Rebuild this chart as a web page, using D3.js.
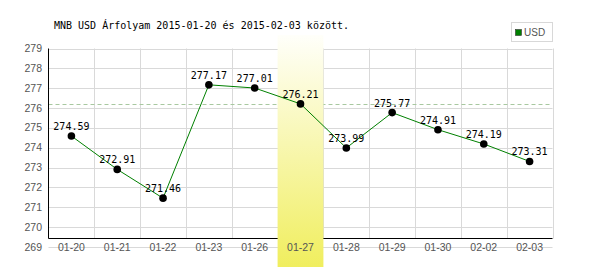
<!DOCTYPE html>
<html><head><meta charset="utf-8">
<script src="https://cdn.jsdelivr.net/npm/d3@7"></script>
<style>body{margin:0;background:#fff}svg{display:block}</style>
</head><body>
<svg id="c" width="600" height="270"></svg>
<script>
const categories = ["01-20","01-21","01-22","01-23","01-26","01-27","01-28","01-29","01-30","02-02","02-03"];
const values = [274.59,272.91,271.46,277.17,277.01,276.21,273.99,275.77,274.91,274.19,273.31];
const yTicks = [269,270,271,272,273,274,275,276,277,278,279];
const highlight = "01-27";
const refValue = 276.21;
const title = "MNB USD Árfolyam 2015-01-20 és 2015-02-03 között.";
const seriesName = "USD";

const svg = d3.select("#c");
const L = 48.5, R = 552.5, T = 48.5, B = 247;
const x = d3.scaleBand().domain(categories).range([L, R]);
const y = d3.scaleLinear().domain([269, 279]).range([B, T]);
const axisY = Math.round(y(269) - 9) + 0.5;

const defs = svg.append("defs");
const g = defs.append("linearGradient").attr("id","hl").attr("x1",0).attr("y1",0).attr("x2",0).attr("y2",1);
g.append("stop").attr("offset","0%").attr("stop-color","#fffffa");
g.append("stop").attr("offset","100%").attr("stop-color","#f0ee5e");

// horizontal grid
svg.append("g").selectAll("line").data(yTicks).join("line")
  .attr("x1", L).attr("x2", R)
  .attr("y1", d => Math.round(y(d)) + 0.5).attr("y2", d => Math.round(y(d)) + 0.5)
  .attr("stroke", "#d9d9d9").attr("stroke-width", 1);
// vertical grid
svg.append("g").selectAll("line").data(categories.slice(1).concat(["__end"])).join("line")
  .attr("x1", (d,i) => Math.round(i < categories.length-1 ? x(d) : R) + 0.5)
  .attr("x2", (d,i) => Math.round(i < categories.length-1 ? x(d) : R) + 0.5)
  .attr("y1", T).attr("y2", axisY)
  .attr("stroke", "#d9d9d9").attr("stroke-width", 1);

// reference dashed line
svg.append("line")
  .attr("x1", L).attr("x2", R)
  .attr("y1", Math.round(y(refValue)) + 0.5).attr("y2", Math.round(y(refValue)) + 0.5)
  .attr("stroke", "#a8c8a0").attr("stroke-dasharray", "4,3");

// axes lines
svg.append("line").attr("x1", L).attr("x2", L).attr("y1", T).attr("y2", axisY).attr("stroke", "#000");
svg.append("line").attr("x1", L).attr("x2", R).attr("y1", axisY).attr("stroke", "#000").attr("y2", axisY);

// highlight band
svg.append("rect")
  .attr("x", x(highlight)).attr("width", x.bandwidth())
  .attr("y", 35).attr("height", 232)
  .attr("fill", "url(#hl)");

// y tick labels
svg.append("g").selectAll("text").data(yTicks).join("text")
  .attr("x", 42).attr("y", d => y(d) + 3.5)
  .attr("text-anchor", "end")
  .attr("font-family", "Liberation Sans, Arial, sans-serif").attr("font-size", 10.5)
  .attr("fill", "#555").text(d => d);

// x tick labels
svg.append("g").selectAll("text").data(categories).join("text")
  .attr("x", d => x(d) + x.bandwidth()/2).attr("y", B + 4)
  .attr("text-anchor", "middle")
  .attr("font-family", "Liberation Sans, Arial, sans-serif").attr("font-size", 10.5)
  .attr("fill", "#555").text(d => d);

// line
const line = d3.line().x((d,i) => x(categories[i]) + x.bandwidth()/2).y(d => y(d));
svg.append("path").datum(values).attr("d", line)
  .attr("fill", "none").attr("stroke", "#008000").attr("stroke-width", 1);

// points
svg.append("g").selectAll("circle").data(values).join("circle")
  .attr("cx", (d,i) => x(categories[i]) + x.bandwidth()/2).attr("cy", d => y(d))
  .attr("r", 3.8).attr("fill", "#000");

// value labels
svg.append("g").selectAll("text").data(values).join("text")
  .attr("x", (d,i) => x(categories[i]) + x.bandwidth()/2).attr("y", d => y(d) - 6)
  .attr("text-anchor", "middle")
  .attr("font-family", "DejaVu Sans Mono, monospace").attr("font-size", 10)
  .attr("fill", "#000").text(d => d.toFixed(2));

// title
svg.append("text").attr("x", 54).attr("y", 29)
  .attr("font-family", "DejaVu Sans Mono, monospace").attr("font-size", 10)
  .attr("fill", "#000").text(title);

// legend
svg.append("rect").attr("x", 511.5).attr("y", 22.5).attr("width", 41).attr("height", 19)
  .attr("fill", "#fff").attr("stroke", "#d8d8d8").attr("stroke-width", 1);
svg.append("rect").attr("x", 515.5).attr("y", 29.5).attr("width", 6).attr("height", 6)
  .attr("fill", "#008000").attr("stroke", "#333").attr("stroke-width", 0.6);
svg.append("text").attr("x", 524).attr("y", 36)
  .attr("font-family", "Liberation Sans, Arial, sans-serif").attr("font-size", 10)
  .attr("fill", "#555").text(seriesName);
</script>
</body></html>
